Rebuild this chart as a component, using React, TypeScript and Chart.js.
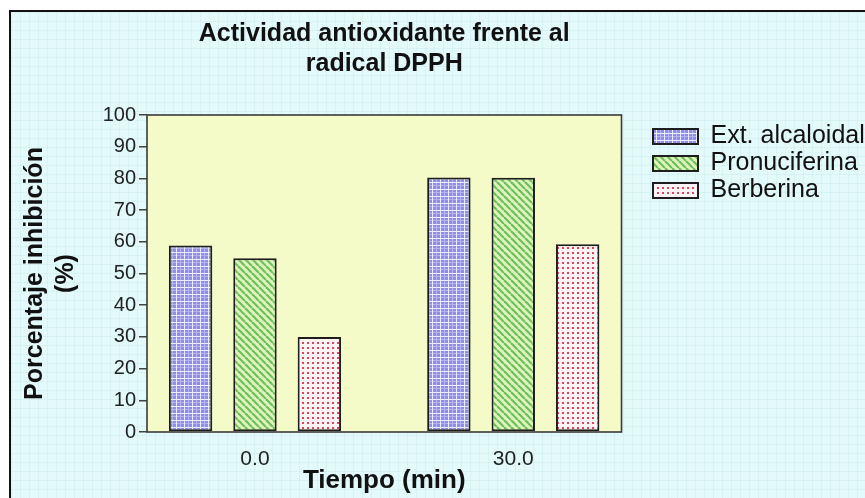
import React, { useEffect, useRef } from "react";
import { Chart, registerables } from "chart.js";

Chart.register(...registerables);

const categories = ["0.0", "30.0"];
const seriesNames = ["Ext. alcaloidal", "Pronuciferina", "Berberina"];
const extAlcaloidal = [58.8, 80.3];
const pronuciferina = [54.8, 80.2];
const berberina = [30.0, 59.2];
const chartTitle = ["Actividad antioxidante frente al", "radical DPPH"];
const yTitle = ["Porcentaje inhibición", "(%)"];
const xTitle = "Tiempo (min)";

const FONT = "'Liberation Sans', Arial, Helvetica, sans-serif";

export default function App() {
  const ref = useRef<HTMLCanvasElement | null>(null);

  useEffect(() => {
    const canvas = ref.current;
    if (!canvas) return;
    const ctx = canvas.getContext("2d")!;

    const makePattern = (w: number, h: number, draw: (g: CanvasRenderingContext2D) => void) => {
      const c = document.createElement("canvas");
      c.width = w;
      c.height = h;
      const g = c.getContext("2d")!;
      draw(g);
      return ctx.createPattern(c, "repeat")!;
    };

    const bluePat = makePattern(8, 7, (g) => {
      g.fillStyle = "#8e8ee8";
      g.fillRect(0, 0, 8, 7);
      g.fillStyle = "#b4b4f2";
      g.fillRect(4, 0, 1, 7);
      g.fillRect(0, 3, 8, 1);
      g.fillStyle = "#ececfd";
      g.fillRect(0, 0, 1, 7);
      g.fillRect(0, 0, 8, 1);
    });

    const greenPat = makePattern(7, 7, (g) => {
      g.fillStyle = "#def4bf";
      g.fillRect(0, 0, 7, 7);
      g.strokeStyle = "#70be5a";
      g.lineWidth = 2.2;
      for (let k = -1; k <= 1; k++) {
        g.beginPath();
        g.moveTo(k * 7, 0);
        g.lineTo(k * 7 + 7, 7);
        g.stroke();
      }
    });

    const redPat = makePattern(5, 5, (g) => {
      g.fillStyle = "#fdf2f4";
      g.fillRect(0, 0, 5, 5);
      g.fillStyle = "#d9465e";
      g.fillRect(2, 2, 2, 2);
    });

    const plotPlugin = {
      id: "plotFrame",
      beforeDraw(chart: any) {
        const { ctx: c, chartArea: a } = chart;
        c.save();
        c.fillStyle = "#f5fbc8";
        c.fillRect(a.left, a.top, a.right - a.left, a.bottom - a.top);
        c.restore();
      },
      afterDatasetsDraw(chart: any) {
        const { ctx: c, chartArea: a } = chart;
        c.save();
        c.strokeStyle = "#3a3a3a";
        c.lineWidth = 1.6;
        c.strokeRect(a.left, a.top, a.right - a.left, a.bottom - a.top);
        c.restore();
      },
    };

    const toPoints = (vals: number[]) => categories.map((_, i) => ({ x: i, y: vals[i] }));
    const barStyle = { borderColor: "#1e1e1e", borderWidth: 2, borderSkipped: false as const };

    const chart = new Chart(canvas, {
      type: "bar",
      data: {
        datasets: [
          { label: seriesNames[0], data: toPoints(extAlcaloidal), backgroundColor: bluePat, ...barStyle },
          { label: seriesNames[1], data: toPoints(pronuciferina), backgroundColor: greenPat, ...barStyle },
          { label: seriesNames[2], data: toPoints(berberina), backgroundColor: redPat, ...barStyle },
        ] as any,
      },
      options: {
        responsive: false,
        animation: false,
        layout: { padding: 0 },
        datasets: { bar: { categoryPercentage: 0.748, barPercentage: 0.674 } },
        scales: {
          x: {
            type: "linear",
            offset: false,
            min: -0.418,
            max: 1.419,
            afterBuildTicks: (s: any) => {
              s.ticks = categories.map((_, i) => ({ value: i }));
            },
            afterFit: (s: any) => {
              s.height = 66;
            },
            ticks: {
              callback: (_v: any, i: number) => categories[i],
              font: { family: FONT, size: 21 },
              color: "#222",
              padding: 15,
            },
            grid: { display: false, drawTicks: false, offset: false },
            border: { display: false },
            title: {
              display: true,
              text: xTitle,
              font: { family: FONT, size: 26, weight: "bold" },
              color: "#111",
              padding: { top: 0, bottom: 1.4 },
            },
          },
          y: {
            min: 0,
            max: 100,
            afterFit: (s: any) => {
              s.width = 147;
            },
            ticks: {
              stepSize: 10,
              font: { family: FONT, size: 20 },
              color: "#222",
              padding: 3,
            },
            grid: { drawOnChartArea: false, drawTicks: true, tickLength: 8, color: "#444", lineWidth: 1.5 },
            border: { display: false },
            title: {
              display: true,
              text: yTitle,
              font: { family: FONT, size: 25, weight: "bold", lineHeight: 1.25 },
              color: "#111",
              padding: { top: 19.4, bottom: 0 },
            },
          },
          y2: {
            position: "right",
            display: true,
            afterFit: (s: any) => {
              s.width = 29.5;
            },
            ticks: { display: false },
            grid: { display: false, drawTicks: false },
            border: { display: false },
          },
        },
        plugins: {
          legend: {
            position: "right",
            align: "start",
            fullSize: false,
            maxWidth: 214,
            title: { display: true, text: " ", font: { size: 5 }, padding: { top: 1, bottom: 0 } },
            labels: {
              boxWidth: 45,
              boxHeight: 15,
              padding: 2,
              font: { family: FONT, size: 25 },
              color: "#111",
            },
          },
          title: {
            display: true,
            text: chartTitle,
            fullSize: false,
            font: { family: FONT, size: 25, weight: "bold" },
            color: "#111",
            padding: { top: 19, bottom: 36 },
          },
          tooltip: { enabled: false },
        },
      } as any,
      plugins: [plotPlugin],
    });

    return () => chart.destroy();
  }, []);

  return (
    <div style={{ position: "fixed", left: 0, top: 0, width: 865, height: 498, overflow: "hidden", background: "#ffffff" }}>
      <div
        style={{
          position: "absolute",
          left: 9,
          top: 10,
          width: 900,
          height: 560,
          borderLeft: "2px solid #111",
          borderTop: "2px solid #111",
          backgroundColor: "#e3f9fa",
          backgroundImage:
            "linear-gradient(rgba(150,205,212,0.14) 1px, transparent 1px), linear-gradient(90deg, rgba(150,205,212,0.14) 1px, transparent 1px)",
          backgroundSize: "9px 9px",
        }}
      />
      <canvas
        ref={ref}
        width={865}
        height={498}
        style={{ position: "absolute", left: 0, top: 0, width: 865, height: 498, display: "block" }}
      />
    </div>
  );
}
